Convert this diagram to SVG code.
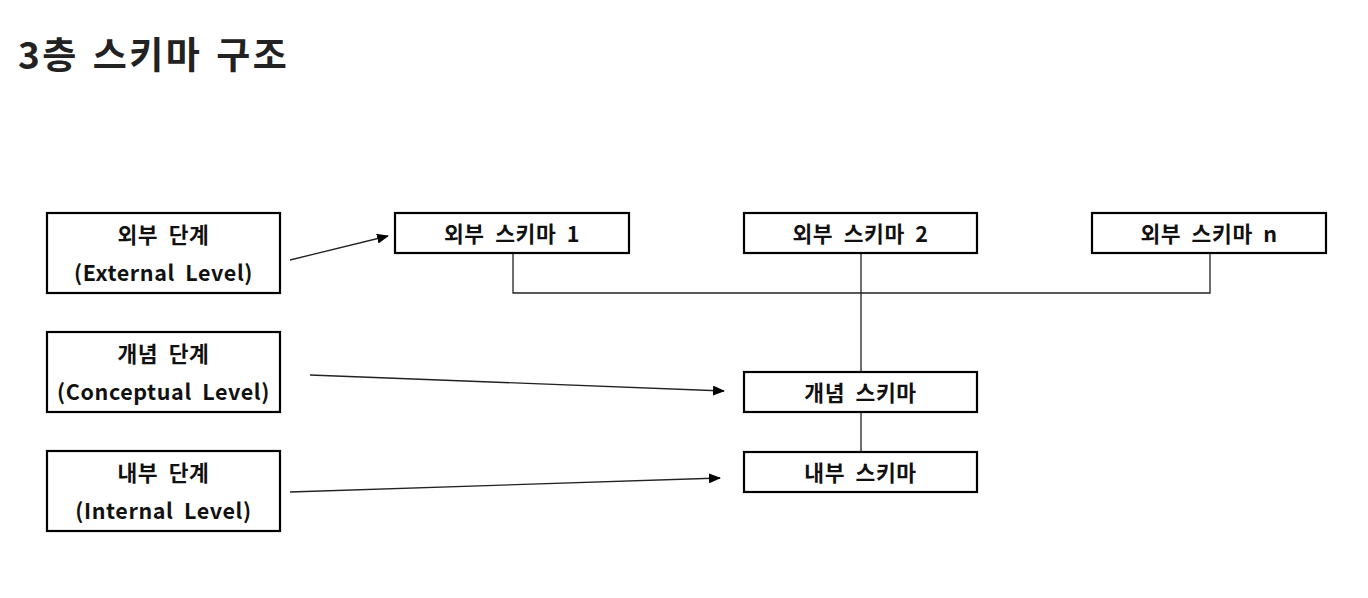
<svg xmlns="http://www.w3.org/2000/svg" width="1368" height="598" viewBox="0 0 1368 598">
<defs>
<style>
.box{fill:#fff;stroke:#000;stroke-width:2.2}
.t{font-family:"Noto Sans CJK KR","Noto Sans",sans-serif;font-weight:700;font-size:21.5px;letter-spacing:0.6px;word-spacing:5px;fill:#111;text-anchor:middle}
.title{font-family:"Noto Sans CJK KR","Noto Sans",sans-serif;font-weight:700;font-size:37px;letter-spacing:2.5px;word-spacing:3px;fill:#222}
.ln{stroke:#222;stroke-width:1.3;fill:none}
</style>
<marker id="ah" markerWidth="12" markerHeight="10" refX="11" refY="5" orient="auto" markerUnits="userSpaceOnUse">
<path d="M0,0 L12,5 L0,10 Z" fill="#000"/>
</marker>
</defs>
<rect width="1368" height="598" fill="#fff"/>
<text class="title" x="18" y="69">3층 스키마 구조</text>
<g id="connectors">
<path class="ln" d="M513,253 V293 H1210 V253"/>
<path class="ln" d="M861,253 V372"/>
<path class="ln" d="M861,412 V452"/>
<line class="ln" x1="290" y1="260" x2="388" y2="236" marker-end="url(#ah)"/>
<line class="ln" x1="310" y1="375" x2="724" y2="391" marker-end="url(#ah)"/>
<line class="ln" x1="290" y1="492" x2="720" y2="478" marker-end="url(#ah)"/>
</g>
<g id="external-level"><rect class="box" x="47" y="213" width="233" height="80"/><text class="t" x="163.5" y="243">외부 단계</text><text class="t" x="163.5" y="281">(External Level)</text></g>
<g id="conceptual-level"><rect class="box" x="47" y="332" width="233" height="80"/><text class="t" x="163.5" y="362">개념 단계</text><text class="t" x="163.5" y="400">(Conceptual Level)</text></g>
<g id="internal-level"><rect class="box" x="47" y="451" width="233" height="80"/><text class="t" x="163.5" y="481">내부 단계</text><text class="t" x="163.5" y="519">(Internal Level)</text></g>
<g id="ext-schema-1"><rect class="box" x="395" y="213" width="234" height="40"/><text class="t" x="512" y="242">외부 스키마 1</text></g>
<g id="ext-schema-2"><rect class="box" x="744" y="213" width="233" height="40"/><text class="t" x="860.5" y="242">외부 스키마 2</text></g>
<g id="ext-schema-n"><rect class="box" x="1092" y="213" width="234" height="40"/><text class="t" x="1209" y="242">외부 스키마 n</text></g>
<g id="conceptual-schema"><rect class="box" x="744" y="372" width="233" height="40"/><text class="t" x="860.5" y="401">개념 스키마</text></g>
<g id="internal-schema"><rect class="box" x="744" y="452" width="233" height="40"/><text class="t" x="860.5" y="481">내부 스키마</text></g>
</svg>
